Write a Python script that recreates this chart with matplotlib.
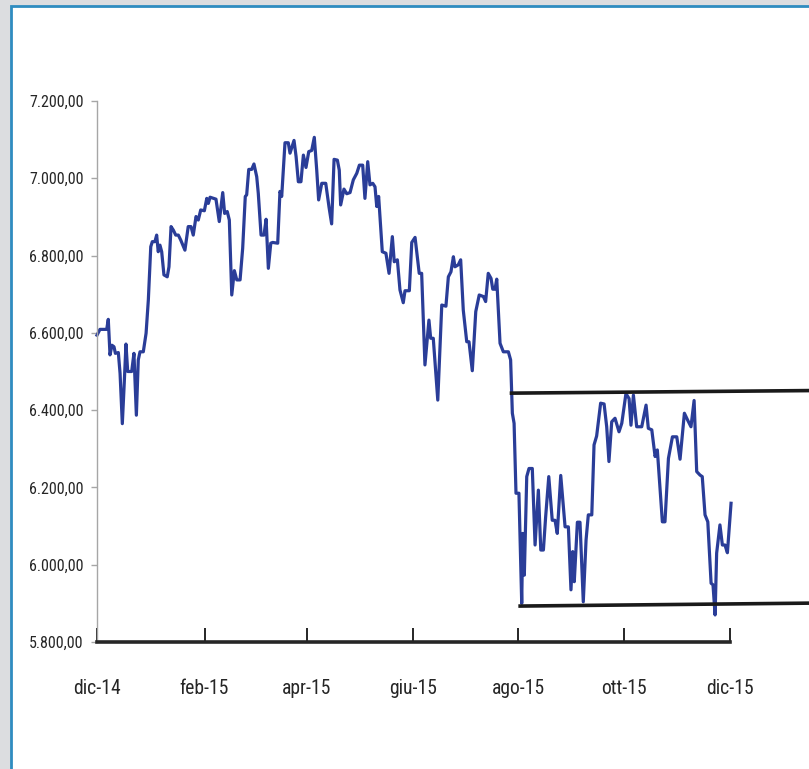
import os
import numpy as np
import pandas as pd
import matplotlib
matplotlib.use("Agg")
import matplotlib.pyplot as plt
from matplotlib import font_manager
from matplotlib.font_manager import FontProperties
from matplotlib.patches import Rectangle
from matplotlib.ticker import FuncFormatter

# days since 2014-12-01 and index level
days = [0, 1.7, 5.6, 6.5, 7.5, 8.6, 9.8, 10.6, 12.3, 13.3, 14.6, 15.7, 16.7, 17.7, 20.0,
        21.3, 22.7, 23.8, 24.8, 26.7, 28.3, 29.6, 31.0, 31.9, 33.4, 34.4, 35.3, 36.3, 37.3,
        38.6, 40.5, 41.5, 42.7, 44.0, 45.4, 46.9, 48.3, 50.7, 52.6, 54.2, 55.5, 57.1, 58.4,
        59.8, 61.9, 63.3, 64.2, 65.2, 68.6, 70.5, 72.5, 73.6, 75.1, 76.3, 77.7, 79.2, 80.6,
        82.5, 84.0, 85.5, 86.3, 87.5, 89.2, 90.5, 92.1, 93.0, 94.6, 96.3, 97.5, 98.8, 100.2,
        101.3, 104.2, 105.5, 106.5, 107.4, 108.4, 110.3, 111.3, 113.6, 114.8, 116.1, 117.6,
        119.0, 120.5, 122.1, 123.8, 125.3, 126.7, 127.8, 129.6, 131.9, 133.8, 135.3, 136.7,
        138.6, 139.7, 140.5, 142.4, 144.0, 145.9, 147.8, 149.8, 151.3, 153.2, 154.5, 156.1,
        157.4, 159.0, 160.3, 161.3, 162.4, 164.5, 166.6, 168.4, 170.3, 171.4, 173.2, 174.7,
        176.6, 177.6, 180.1, 181.5, 183.4, 185.8, 187.2, 189.1, 191.4, 192.4, 193.9, 196.5,
        198.8, 201.2, 202.6, 204.1, 205.5, 206.4, 208.3, 209.7, 211.2, 213.2, 214.5, 216.4,
        218.4, 220.4, 222.8, 224.1, 225.6, 227.2, 228.2, 229.5, 230.5, 232.4, 234.3, 237.2,
        238.5, 239.5, 240.5, 241.6, 243.3, 244.9, 245.5, 246.4, 247.8, 249.1, 251.0, 252.6,
        254.5, 255.9, 257.4, 258.7, 260.5, 262.5, 264.1, 265.4, 267.4, 269.9, 271.8, 273.3,
        274.3, 275.2, 277.0, 278.5, 280.4, 282.0, 283.3, 285.3, 286.6, 288.1, 290.4, 292.4,
        293.9, 295.2, 296.8, 298.7, 301.0, 302.6, 305.0, 306.8, 307.9, 309.3, 311.2, 314.1,
        316.6, 317.9, 319.9, 321.8, 323.1, 324.7, 326.0, 327.5, 329.5, 331.8, 334.3, 336.2,
        338.7, 340.6, 342.5, 344.3, 345.8, 347.7, 349.0, 350.6, 352.2, 354.1, 355.2, 356.4,
        357.3, 359.2, 360.6, 362.1, 363.5, 365.6]
values = [6594, 6609, 6609, 6635, 6543, 6568, 6564, 6547, 6549, 6495, 6365, 6469, 6571, 6500, 6500,
          6547, 6387, 6530, 6551, 6551, 6599, 6685, 6823, 6836, 6836, 6853, 6810, 6827, 6810,
          6750, 6745, 6771, 6875, 6866, 6853, 6853, 6840, 6814, 6875, 6875, 6853, 6901, 6892,
          6918, 6916, 6948, 6935, 6951, 6946, 6888, 6963, 6909, 6914, 6892, 6698, 6761, 6737,
          6737, 6819, 6953, 6957, 7023, 7023, 7037, 7004, 6961, 6853, 6853, 6894, 6767, 6832,
          6834, 6832, 6966, 6953, 7021, 7092, 7092, 7065, 7098, 7056, 6991, 6991,
          7060, 7028, 7069, 7072, 7106, 7021, 6944, 6987, 6987, 6925, 6882, 7049,
          7047, 7021, 6931, 6972, 6960, 6963, 6996, 7013, 7034, 7034, 6948, 7043,
          6983, 6987, 6978, 6927, 6953, 6810, 6806, 6754, 6849, 6784, 6789, 6711,
          6678, 6709, 6709, 6834, 6847, 6754, 6754, 6517, 6633, 6586, 6586, 6426,
          6672, 6669, 6745, 6758, 6797, 6771, 6776, 6789, 6659, 6577, 6577, 6502,
          6655, 6698, 6694, 6681, 6754, 6741, 6713, 6713, 6739, 6573, 6551, 6551,
          6530, 6392, 6366, 6185, 6185, 5900, 6081, 5973, 6228, 6249, 6249, 6051,
          6193, 6038, 6038, 6124, 6228, 6115, 6115, 6081, 6231, 6098, 6098, 5935,
          6034, 5956, 6110, 6110, 5904, 6064, 6129, 6129, 6310, 6333, 6418, 6416,
          6357, 6267, 6370, 6379, 6344, 6366, 6443, 6430, 6361, 6439, 6357, 6357,
          6413, 6353, 6349, 6280, 6297, 6193, 6111, 6111, 6275, 6331, 6331, 6273,
          6392, 6374, 6357, 6425, 6241, 6232, 6228, 6129, 6111, 5952, 5948, 5870,
          6030, 6103, 6051, 6051, 6031, 6159]

# trend channel drawn on the chart
channel_start_upper = "2015-07-28"
channel_start_lower = "2015-08-02"
channel_end = "2016-01-25"
upper_channel = [6444, 6451]
lower_channel = [5893, 5901]

tick_dates = ["2014-12-01", "2015-02-01", "2015-04-01", "2015-06-01",
              "2015-08-01", "2015-10-01", "2015-12-01"]
tick_labels = ["dic-14", "feb-15", "apr-15", "giu-15", "ago-15", "ott-15", "dic-15"]

dates = pd.Timestamp("2014-12-01") + pd.to_timedelta(days, unit="D")


def narrow_font():
    # look for a condensed face, the chart uses a narrow font
    skip = ("Bold", "Italic", "Light", "Medium", "Thin", "Black", "Semi", "Extra", "Ultra")
    found = []
    for f in font_manager.fontManager.ttflist:
        base = os.path.basename(f.fname)
        if ("Condensed" in base or "Narrow" in base) and not any(s in base for s in skip):
            found.append(f.fname)
    for key in ("LiberationSansNarrow", "RobotoCondensed", "OpenSans", "NotoSans-", "NotoSans"):
        for p in found:
            if key in os.path.basename(p):
                return FontProperties(fname=p)
    if found:
        return FontProperties(fname=found[0])
    return FontProperties(family="Liberation Sans")


W, H = 809, 769
fig = plt.figure(figsize=(W / 100, H / 100), dpi=100, facecolor="#dcdde0")
fig.patches.append(Rectangle((11 / W, -0.1), 1.2, 1.1 - 6 / H, transform=fig.transFigure,
                             facecolor="white", edgecolor="#2f8cc0", linewidth=2, zorder=-5))

ax = fig.add_axes([97 / W, 127 / H, 633 / W, 541 / H])
ax.set_facecolor("none")
ax.plot(dates, values, color="#2a3d98", linewidth=2.3, solid_joinstyle="round", clip_on=False)

ax.plot(pd.to_datetime([channel_start_upper, channel_end]), upper_channel,
        color="#1a1a1a", linewidth=2.6, clip_on=False)
ax.plot(pd.to_datetime([channel_start_lower, channel_end]), lower_channel,
        color="#1a1a1a", linewidth=2.6, clip_on=False)

ax.set_xlim(pd.Timestamp(tick_dates[0]), pd.Timestamp(tick_dates[-1]))
ax.set_ylim(5800, 7200)
ax.set_yticks(np.arange(5800, 7201, 200))
ax.yaxis.set_major_formatter(FuncFormatter(
    lambda v, p: f"{v:,.2f}".replace(",", "X").replace(".", ",").replace("X", ".")))
ax.set_xticks(pd.to_datetime(tick_dates))
ax.set_xticklabels(tick_labels)

for s in ["top", "right"]:
    ax.spines[s].set_visible(False)
ax.spines["left"].set_color("#a6a6a6")
ax.spines["left"].set_linewidth(1.0)
ax.spines["bottom"].set_color("#262626")
ax.spines["bottom"].set_linewidth(2.6)

ax.tick_params(axis="y", direction="out", length=4, width=1, color="#a6a6a6",
               labelcolor="#262626", pad=5.5)
ax.tick_params(axis="x", direction="in", length=10, width=1.4, color="#262626",
               labelcolor="#262626", pad=27)

# size the labels so their widths match the chart (y: ~54 px, x: "feb-15" ~49 px)
fp = narrow_font()
renderer = fig.canvas.get_renderer()
probe = fig.text(0, 0, "7.200,00", fontproperties=fp, fontsize=10)
wy = probe.get_window_extent(renderer).width
probe.set_text("feb-15")
wx = probe.get_window_extent(renderer).width
probe.remove()
ysize = min(16, 10 * 54 / wy)
xsize = min(17, 10 * 49 / wx)
for lab in ax.get_yticklabels():
    lab.set_fontproperties(fp)
    lab.set_fontsize(ysize)
for lab in ax.get_xticklabels():
    lab.set_fontproperties(fp)
    lab.set_fontsize(xsize)

fig.savefig("out.png", dpi=100, facecolor=fig.get_facecolor())
